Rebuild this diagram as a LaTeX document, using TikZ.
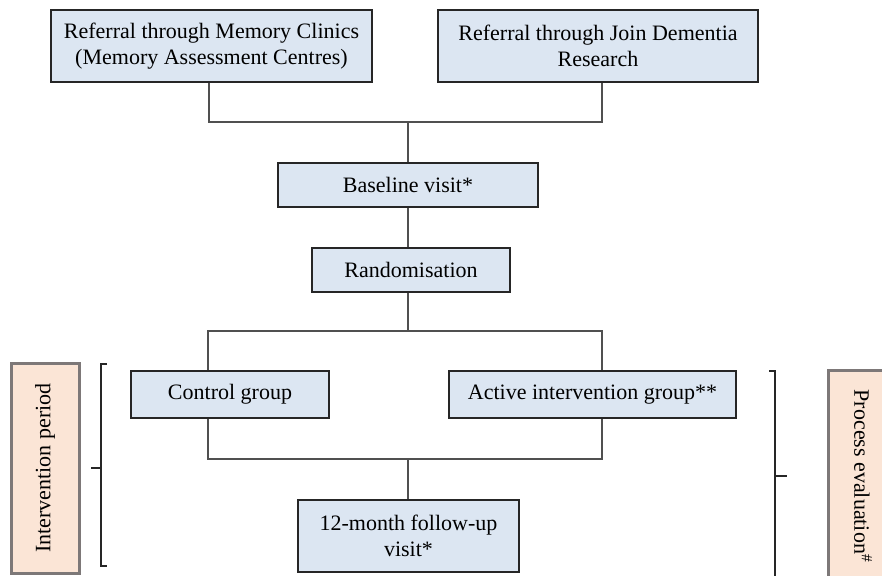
\documentclass[tikz,border=0pt]{standalone}
\usepackage{fontspec}
\setmainfont{Liberation Serif}
\definecolor{boxfill}{RGB}{220,230,242}
\definecolor{peach}{RGB}{251,229,214}
\definecolor{labeledge}{RGB}{125,120,120}
\definecolor{lineg}{RGB}{80,80,80}
\begin{document}
\begin{tikzpicture}[x=1pt,y=-1pt,
  box/.style={draw=black!85, line width=1.4pt, fill=boxfill, align=center, inner sep=0pt,
    font=\fontsize{22}{26.5}\selectfont},
  conn/.style={draw=lineg, line width=1.1pt},
  brk/.style={draw=black!85, line width=1.1pt},
  sidelabel/.style={draw=labeledge, line width=3pt, fill=peach}]
\useasboundingbox (0,0) rectangle (882,575);
\clip (0,0) rectangle (882,575);
% boxes
\node[box, minimum width=321pt, minimum height=72pt] (ref1) at (211.5,46) {Referral through Memory Clinics\\(Memory Assessment Centres)};
\node[box, minimum width=320pt, minimum height=72pt] (ref2) at (598,46) {Referral through Join Dementia\\Research};
\node[box, minimum width=260pt, minimum height=44pt] (base) at (408,185) {Baseline visit*};
\node[box, minimum width=198pt, minimum height=44pt] (rand) at (411,270) {Randomisation};
\node[box, minimum width=198pt, minimum height=47pt] (ctrl) at (230,394.5) {Control group};
\node[box, minimum width=287pt, minimum height=47pt] (act) at (592.5,394.5) {Active intervention group**};
\node[box, minimum width=221pt, minimum height=72pt] (fu) at (408.5,536) {12-month follow-up\\visit*};
% junction coordinates
\coordinate (j1l) at (209,122);
\coordinate (j1r) at (602,122);
\coordinate (j1m) at (408,122);
\coordinate (j2l) at (208,331);
\coordinate (j2r) at (602,331);
\coordinate (j2m) at (408,331);
\coordinate (j3l) at (208,459);
\coordinate (j3r) at (602,459);
\coordinate (j3m) at (408,459);
% connectors
\draw[conn] (ref1.south -| j1l) -- (j1l) -- (j1r) -- (ref2.south -| j1r);
\draw[conn] (j1m) -- (base.north -| j1m);
\draw[conn] (base.south -| j1m) -- (rand.north -| j1m);
\draw[conn] (rand.south -| j2m) -- (j2m);
\draw[conn] (ctrl.north -| j2l) -- (j2l) -- (j2r) -- (act.north -| j2r);
\draw[conn] (ctrl.south -| j3l) -- (j3l) -- (j3r) -- (act.south -| j3r);
\draw[conn] (j3m) -- (fu.north -| j3m);
% side labels
\node[sidelabel, minimum width=68pt, minimum height=210pt, inner sep=0pt] (ip) at (45,468) {};
\node[rotate=90, font=\fontsize{22}{26.5}\selectfont] (iptext) at (ip.center) {Intervention period};
\node[sidelabel, minimum width=68pt, minimum height=221pt, inner sep=0pt, anchor=north west] (pe) at (827,369) {};
\node[rotate=-90, font=\fontsize{22}{26.5}\selectfont] (petext) at (863,476) {Process evaluation\textsuperscript{\#}};
% brackets
\coordinate (lbt) at (101,364);
\coordinate (lbb) at (101,566);
\coordinate (lbm) at (101,468);
\coordinate (lbtick) at (91,468);
\draw[brk] ([xshift=6pt]lbt) -- (lbt) -- (lbb) -- ([xshift=6pt]lbb);
\draw[brk] (lbm) -- (lbtick);
\coordinate (rbt) at (775,371);
\coordinate (rbb) at (775,585);
\coordinate (rbm) at (775,476);
\coordinate (rbtick) at (787,476);
\draw[brk] ([xshift=-6pt]rbt) -- (rbt) -- (rbb);
\draw[brk] (rbm) -- (rbtick);
\end{tikzpicture}
\end{document}
